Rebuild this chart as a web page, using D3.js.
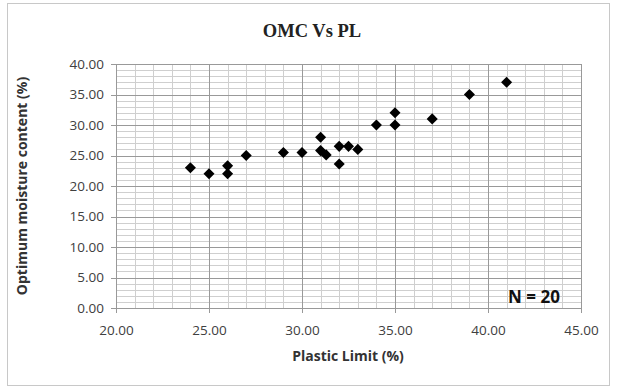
<!DOCTYPE html>
<html><head><meta charset="utf-8">
<script src="https://cdn.jsdelivr.net/npm/d3@7"></script>
<style>body{margin:0;background:#fff;} svg{display:block;}</style>
</head><body>
<svg id="c" width="617" height="391"></svg>
<script>
const plasticLimit = [24, 25, 26, 26, 27, 29, 30, 31, 31, 31.3, 32, 32, 32.5, 33, 34, 35, 35, 37, 39, 41];
const omc =          [23, 22, 23.3, 22, 25, 25.5, 25.5, 28, 25.8, 25.1, 26.5, 23.6, 26.5, 26, 30, 30, 32, 31, 35, 37];
const xTicks = [20, 25, 30, 35, 40, 45];
const yTicks = [0, 5, 10, 15, 20, 25, 30, 35, 40];
const title = "OMC Vs PL";
const xTitle = "Plastic Limit (%)";
const yTitle = "Optimum moisture content (%)";
const note = "N = 20";

const svg = d3.select("#c");
const L = 116, R = 581, T = 64, B = 308;
const x = d3.scaleLinear().domain([20, 45]).range([L, R]);
const y = d3.scaleLinear().domain([0, 40]).range([B, T]);

svg.append("rect").attr("x", 7.5).attr("y", 3.5).attr("width", 602).attr("height", 382)
  .attr("fill", "#fff").attr("stroke", "#c8c8c8");

const g = svg.append("g");
const xMinor = d3.range(20, 45.001, 1);
const yMinor = d3.range(0, 40.001, 1);
g.selectAll(".xm").data(xMinor).join("line")
  .attr("x1", d => Math.round(x(d)) + 0.5).attr("x2", d => Math.round(x(d)) + 0.5)
  .attr("y1", T).attr("y2", B).attr("stroke", "#cfcfcf");
g.selectAll(".ym").data(yMinor).join("line")
  .attr("y1", d => Math.round(y(d)) + 0.5).attr("y2", d => Math.round(y(d)) + 0.5)
  .attr("x1", L).attr("x2", R).attr("stroke", "#cfcfcf");
g.selectAll(".xM").data(xTicks).join("line")
  .attr("x1", d => Math.round(x(d)) + 0.5).attr("x2", d => Math.round(x(d)) + 0.5)
  .attr("y1", T).attr("y2", B + 5).attr("stroke", "#999");
g.selectAll(".yM").data(yTicks).join("line")
  .attr("y1", d => Math.round(y(d)) + 0.5).attr("y2", d => Math.round(y(d)) + 0.5)
  .attr("x1", L - 5).attr("x2", R).attr("stroke", "#999");

const xAxis = svg.append("g").attr("transform", `translate(0,${B})`)
  .call(d3.axisBottom(x).tickValues(xTicks).tickFormat(d3.format(".2f")).tickSize(0).tickPadding(17));
const yAxis = svg.append("g").attr("transform", `translate(${L},0)`)
  .call(d3.axisLeft(y).tickValues(yTicks).tickFormat(d3.format(".2f")).tickSize(0).tickPadding(12));
[xAxis, yAxis].forEach(a => {
  a.select(".domain").remove();
  a.selectAll("text").attr("font-family", "'Open Sans', sans-serif").attr("font-size", 13.5).attr("fill", "#404040");
});

const diamond = d3.symbol().type(d3.symbolDiamond2).size(78);
svg.append("g").selectAll("path").data(plasticLimit.map((v, i) => [v, omc[i]])).join("path")
  .attr("transform", d => `translate(${x(d[0])},${y(d[1])})`)
  .attr("d", diamond).attr("fill", "#000");

svg.append("text").attr("x", 312).attr("y", 37).attr("text-anchor", "middle")
  .attr("font-family", "'Liberation Serif', serif").attr("font-weight", "bold").attr("font-size", 18.5)
  .attr("fill", "#222").text(title);
svg.append("text").attr("x", 348).attr("y", 361).attr("text-anchor", "middle")
  .attr("font-family", "'Open Sans', sans-serif").attr("font-weight", "bold").attr("font-size", 14)
  .attr("fill", "#333").text(xTitle);
svg.append("text").attr("transform", "translate(27,186) rotate(-90)").attr("text-anchor", "middle")
  .attr("font-family", "'Open Sans', sans-serif").attr("font-weight", "bold").attr("font-size", 14)
  .attr("fill", "#333").text(yTitle);
svg.append("text").attr("x", 534).attr("y", 303).attr("text-anchor", "middle")
  .attr("font-family", "'Open Sans', sans-serif").attr("font-weight", "bold").attr("font-size", 17)
  .attr("fill", "#111").text(note);
</script>
</body></html>
